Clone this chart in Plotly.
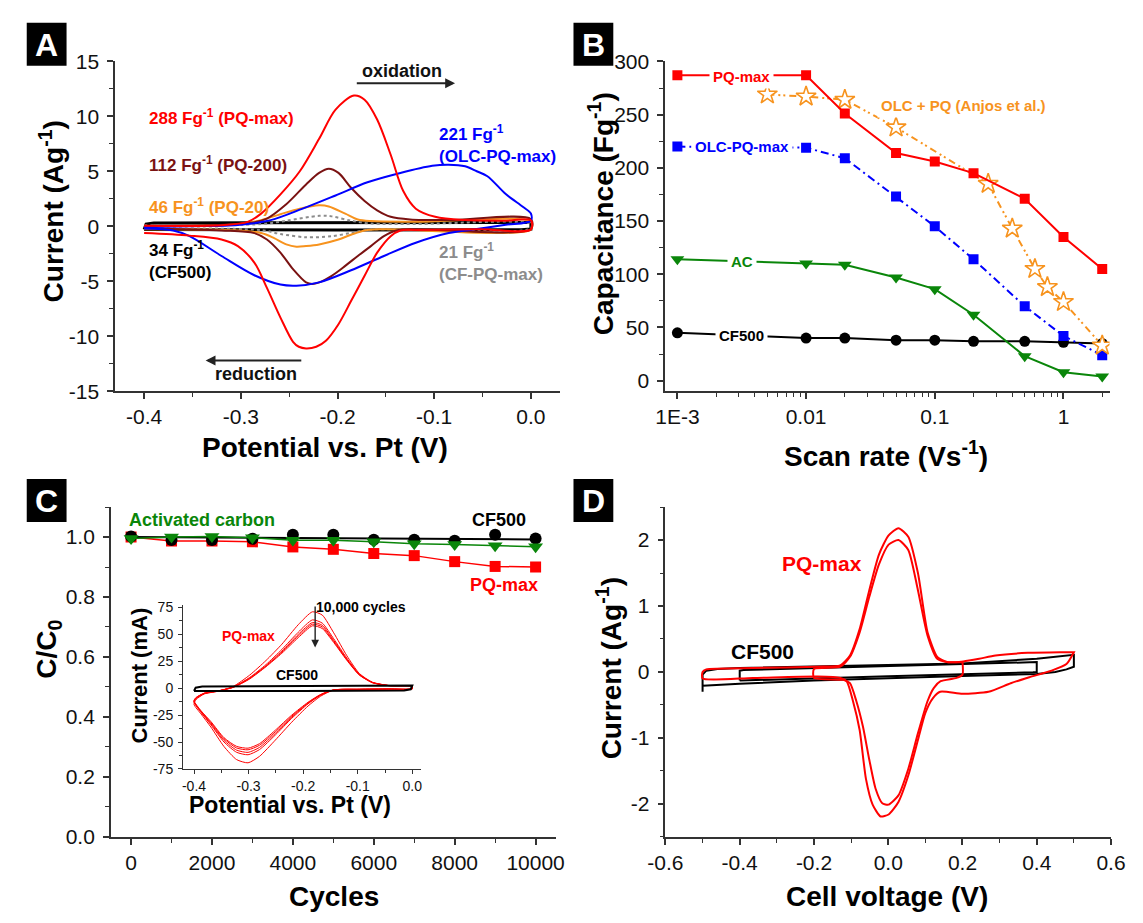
import numpy as np
import plotly.graph_objects as go

W, H = 1143, 923
FONT = "Liberation Sans, Arial, Helvetica, sans-serif"

# ---------------- Panel A : CVs of the electrodes (A g-1 vs V) ----------------
A_pqmax_fx = [-0.40, -0.32, -0.293, -0.279, -0.259, -0.239, -0.219, -0.202, -0.183, -0.172, -0.159, -0.145, -0.132, -0.119, -0.099, -0.068, -0.028, 0.0]
A_pqmax_fy = [0.05, 0.1, 0.4, 1.15, 2.9, 5.0, 7.95, 10.6, 11.88, 11.5, 9.7, 6.5, 3.2, 1.6, 0.86, 0.56, 0.5, 0.55]
A_pqmax_rx = [0.0, -0.052, -0.119, -0.135, -0.145, -0.159, -0.172, -0.186, -0.199, -0.212, -0.222, -0.2325, -0.240, -0.246, -0.259, -0.273, -0.286, -0.303, -0.32, -0.353, -0.40]
A_pqmax_ry = [-0.3, -0.27, -0.33, -0.38, -0.9, -2.4, -4.5, -6.8, -8.9, -10.4, -10.95, -11.1, -10.95, -10.5, -8.3, -5.6, -3.3, -1.8, -1.2, -0.85, -0.62]

A_pq200_fx = [-0.40, -0.293, -0.273, -0.253, -0.2325, -0.219, -0.209, -0.199, -0.186, -0.172, -0.159, -0.145, -0.125, -0.085, 0.0]
A_pq200_fy = [0.05, 0.27, 0.7, 2.0, 3.8, 4.85, 5.23, 4.85, 3.5, 2.3, 1.45, 0.86, 0.62, 0.56, 0.65]
A_pq200_rx = [0.0, -0.119, -0.139, -0.152, -0.1655, -0.179, -0.192, -0.206, -0.219, -0.226, -0.2325, -0.246, -0.259, -0.273, -0.286, -0.32, -0.40]
A_pq200_ry = [-0.25, -0.27, -0.38, -0.9, -1.8, -2.7, -3.6, -4.5, -5.1, -5.25, -5.1, -3.9, -2.4, -1.2, -0.62, -0.38, -0.2]

A_pq20_fx = [-0.40, -0.303, -0.279, -0.259, -0.239, -0.219, -0.209, -0.192, -0.179, -0.1655, -0.119, 0.0]
A_pq20_fy = [0.03, 0.18, 0.56, 1.1, 1.6, 1.9, 1.8, 1.15, 0.62, 0.47, 0.41, 0.4]
A_pq20_rx = [0.0, -0.152, -0.172, -0.186, -0.199, -0.219, -0.2325, -0.2425, -0.253, -0.266, -0.279, -0.303, -0.40]
A_pq20_ry = [-0.3, -0.27, -0.38, -0.77, -1.2, -1.65, -1.8, -1.86, -1.65, -1.06, -0.62, -0.38, -0.27]

A_cfpq_fx = [-0.40, -0.279, -0.253, -0.219, -0.206, -0.186, -0.166, -0.12, 0.0]
A_cfpq_fy = [0.1, 0.2, 0.5, 0.95, 0.9, 0.5, 0.25, 0.2, 0.2]
A_cfpq_rx = [0.0, -0.166, -0.186, -0.206, -0.2325, -0.259, -0.279, -0.40]
A_cfpq_ry = [-0.2, -0.3, -0.6, -0.9, -1.0, -0.7, -0.35, -0.2]

A_cf500_x = [-0.40, -0.398, -0.39, -0.2, 0.0, 0.0, -0.01, -0.2, -0.39, -0.40]
A_cf500_y = [-0.3, 0.2, 0.3, 0.32, 0.35, -0.25, -0.32, -0.33, -0.35, -0.3]

A_olc_fx = [-0.40, -0.353, -0.303, -0.269, -0.236, -0.202, -0.169, -0.135, -0.102, -0.085, -0.068, -0.056, -0.045, -0.026, -0.008, 0.0]
A_olc_fy = [-0.1, 0.0, 0.12, 0.56, 1.6, 2.8, 4.0, 4.85, 5.5, 5.6, 5.45, 5.0, 4.55, 2.93, 1.75, 1.16]
A_olc_rx = [0.0, -0.026, -0.056, -0.085, -0.119, -0.152, -0.186, -0.219, -0.2425, -0.259, -0.286, -0.32, -0.353, -0.37, -0.40]
A_olc_ry = [0.5, 0.13, -0.25, -0.62, -1.5, -2.7, -4.0, -5.1, -5.4, -5.3, -4.45, -2.7, -0.9, -0.38, -0.2]

# ---------------- Panel B : capacitance vs scan rate ----------------
B_rate = [0.001, 0.01, 0.02, 0.05, 0.1, 0.2, 0.5, 1, 2]
B_pqmax = [287, 287, 251, 214, 206, 195, 171, 135, 105]
B_olcpq = [220, 219, 209, 173, 145, 114, 70, 42, 24]
B_ac = [114, 110, 109, 97, 86, 62, 23, 8, 4]
B_cf500 = [45, 40, 40, 38, 38, 37, 37, 36, 35]
B_anjos_rate = [0.005, 0.01, 0.02, 0.05, 0.26, 0.4, 0.6, 0.75, 1, 2]
B_anjos = [269, 267, 264, 238, 185, 143, 105, 88, 74, 33]

# ---------------- Panel C : cycling stability ----------------
C_cycles = [0, 1000, 2000, 3000, 4000, 5000, 6000, 7000, 8000, 9000, 10000]
C_pqmax = [1.0, 0.987, 0.987, 0.984, 0.967, 0.959, 0.945, 0.938, 0.918, 0.902, 0.900]
C_ac = [0.995, 1.0, 1.002, 0.998, 0.989, 0.989, 0.984, 0.978, 0.975, 0.971, 0.968]
C_cf500 = [1.002, 0.99, 0.99, 0.994, 1.008, 1.008, 0.991, 0.991, 0.988, 1.008, 0.995]
C_cf500_fit_x = [0, 10000]
C_cf500_fit_y = [1.0, 0.992]

# inset: CVs (mA) during cycling
I_fx = [-0.4, -0.396, -0.381, -0.357, -0.328, -0.298, -0.268, -0.239, -0.209, -0.183, -0.165, -0.144, -0.120, -0.097, -0.073, -0.043, -0.002, 0.0]
I_rx = [0.0, -0.043, -0.097, -0.144, -0.168, -0.191, -0.221, -0.251, -0.280, -0.301, -0.322, -0.345, -0.369, -0.387, -0.4]
I_c1_f = [-15, -10.4, -5.3, -2.9, 1.7, 12.2, 25.8, 40.9, 59, 71, 68, 51.5, 30.3, 13.7, 5.6, 2.6, 2.3, 1.7]
I_c1_r = [-0.5, -0.75, -1.05, -1.66, -7.4, -16.5, -31.6, -48.2, -63.3, -69.3, -66.3, -54.2, -36.1, -24, -15]
I_c2_f = [-13, -9.5, -5, -2.8, 1.2, 10, 22, 36, 52, 63.5, 60.5, 46, 28, 13, 5.4, 2.5, 2.2, 1.6]
I_c2_r = [-0.5, -0.7, -1.0, -1.6, -6.5, -14.5, -28, -43.5, -57, -61.8, -59.5, -50, -34, -22.5, -13]
I_c3_f = [-12.5, -9, -4.8, -2.7, 1.0, 9.5, 21, 34.5, 50, 61, 58.5, 44.5, 27, 12.6, 5.3, 2.5, 2.2, 1.6]
I_c3_r = [-0.5, -0.7, -1.0, -1.55, -6.2, -14, -27, -42, -55, -59.6, -57.5, -48.5, -33, -22, -12.5]
I_c4_f = [-12, -8.7, -4.6, -2.6, 0.9, 9, 20.5, 33.5, 48.5, 59.5, 57, 43.5, 26.5, 12.4, 5.2, 2.4, 2.1, 1.5]
I_c4_r = [-0.5, -0.7, -1.0, -1.5, -6, -13.5, -26, -40.5, -53, -57.2, -55.5, -47, -32, -21.5, -12]
I_c5_f = [-11.5, -8.5, -4.5, -2.5, 0.8, 8.6, 20, 32.5, 47, 58, 55.5, 42.5, 26, 12.2, 5.1, 2.4, 2.1, 1.5]
I_c5_r = [-0.5, -0.7, -1.0, -1.5, -5.8, -13, -25, -39, -51.5, -55.7, -54, -46, -31, -21, -11.5]
I_cf_x = [-0.4, -0.397, -0.385, -0.2, -0.01, 0.0, -0.003, -0.015, -0.2, -0.4]
I_cf_y = [-2.5, 0.5, 1.5, 2.0, 2.4, 2.6, -1.0, -2.0, -2.6, -2.5]

# ---------------- Panel D : full cell CVs ----------------
D_pq1_fx = [-0.5, -0.5, -0.49, -0.365, -0.19, -0.129, -0.103, -0.077, -0.051, -0.025, 0.001, 0.0275, 0.054, 0.080, 0.106, 0.132, 0.158, 0.202, 0.245, 0.289, 0.376, 0.463, 0.5]
D_pq1_fy = [-0.1, 0.0, 0.04, 0.06, 0.08, 0.1, 0.25, 0.65, 1.24, 1.78, 2.07, 2.18, 2.05, 1.5, 0.6, 0.23, 0.15, 0.16, 0.2, 0.25, 0.29, 0.3, 0.3]
D_pq1_rx = [0.5, 0.48, 0.44, 0.38, 0.33, 0.27, 0.2, 0.14, 0.12, 0.10, 0.08, 0.054, 0.0275, 0.001, -0.0205, -0.042, -0.060, -0.077, -0.095, -0.112, -0.129, -0.19, -0.365, -0.5]
D_pq1_ry = [0.3, 0.12, 0.02, -0.08, -0.17, -0.3, -0.33, -0.3, -0.4, -0.62, -1.03, -1.57, -1.97, -2.16, -2.19, -2.01, -1.62, -0.88, -0.44, -0.14, -0.09, -0.07, -0.09, -0.1]
D_pq2_fx = [-0.2, -0.2, -0.129, -0.103, -0.077, -0.051, -0.025, 0.001, 0.0275, 0.054, 0.080, 0.106, 0.132, 0.158, 0.2]
D_pq2_fy = [-0.09, 0.045, 0.08, 0.23, 0.6, 1.14, 1.63, 1.93, 2.0, 1.85, 1.24, 0.55, 0.2, 0.15, 0.15]
D_pq2_rx = [0.2, 0.2, 0.184, 0.141, 0.123, 0.106, 0.080, 0.054, 0.0275, 0.001, -0.016, -0.034, -0.051, -0.068, -0.086, -0.103, -0.121, -0.2]
D_pq2_ry = [0.15, -0.04, -0.09, -0.14, -0.24, -0.44, -0.93, -1.47, -1.87, -2.01, -1.99, -1.77, -1.33, -0.83, -0.44, -0.17, -0.12, -0.09]
D_cf1_x = [-0.5, -0.5, -0.49, -0.46, -0.4, -0.2, 0.0, 0.2, 0.4, 0.5, 0.5, 0.48, 0.45, 0.4, 0.2, 0.0, -0.2, -0.4, -0.5]
D_cf1_y = [-0.3, -0.04, 0.02, 0.045, 0.06, 0.08, 0.1, 0.13, 0.2, 0.26, 0.08, 0.04, 0.0, -0.03, -0.06, -0.09, -0.13, -0.18, -0.21]
D_cf2_x = [-0.4, -0.4, -0.39, 0.0, 0.39, 0.4, 0.4, 0.39, 0.0, -0.39, -0.4]
D_cf2_y = [-0.13, 0.02, 0.03, 0.09, 0.145, 0.15, 0.0, -0.005, -0.065, -0.125, -0.13]

RED = "#ff0000"
MAROON = "#7a1212"
ORANGE = "#f7931e"
BLUE = "#0000ff"
GREY = "#8c8c8c"
GREEN = "#0a860a"
BLACK = "#000000"

fig = go.Figure()


def line(x, y, color, xa, ya, width=2.0, dash="solid", shape="spline", smoothing=0.6):
    fig.add_trace(go.Scatter(x=x, y=y, mode="lines", xaxis=xa, yaxis=ya,
                             line=dict(color=color, width=width, dash=dash, shape=shape,
                                       smoothing=smoothing if shape == "spline" else None),
                             hoverinfo="skip"))


# Panel A traces
line(A_cf500_x, A_cf500_y, BLACK, "x", "y", width=3, shape="linear")
line(A_cfpq_fx + A_cfpq_rx, A_cfpq_fy + A_cfpq_ry, GREY, "x", "y", width=2, dash="dot", smoothing=0.9)
line(A_pq20_fx + A_pq20_rx, A_pq20_fy + A_pq20_ry, ORANGE, "x", "y", smoothing=0.9)
line(A_pq200_fx + A_pq200_rx, A_pq200_fy + A_pq200_ry, MAROON, "x", "y", smoothing=0.9)
line(A_olc_fx + A_olc_rx, A_olc_fy + A_olc_ry, BLUE, "x", "y", smoothing=0.9)
line(A_pqmax_fx + A_pqmax_rx, A_pqmax_fy + A_pqmax_ry, RED, "x", "y", smoothing=0.9)


# Panel B traces
def mline(x, y, color, xa, ya, symbol, size, dash="solid", width=2, hollow=False):
    fig.add_trace(go.Scatter(x=x, y=y, mode="lines+markers", xaxis=xa, yaxis=ya,
                             line=dict(color=color, width=width, dash=dash),
                             marker=dict(symbol=symbol, size=size, color="white" if hollow else color,
                                         line=dict(color=color, width=1.6 if hollow else 0)),
                             hoverinfo="skip"))


mline(B_rate, B_cf500, BLACK, "x2", "y2", "circle", 11)
mline(B_rate, B_ac, GREEN, "x2", "y2", "triangle-down", 12)
mline(B_rate, B_olcpq, BLUE, "x2", "y2", "square", 10, dash="8px,4px,2px,4px")
mline(B_anjos_rate, B_anjos, ORANGE, "x2", "y2", "star", 15, dash="7px,4px,2px,3px,2px,4px", hollow=True)
mline(B_rate, B_pqmax, RED, "x2", "y2", "square", 10)

# Panel C traces
fig.add_trace(go.Scatter(x=C_cycles, y=C_pqmax, mode="lines+markers", xaxis="x3", yaxis="y3",
                         line=dict(color=RED, width=1.5), marker=dict(symbol="square", size=11, color=RED),
                         hoverinfo="skip"))
fig.add_trace(go.Scatter(x=C_cycles, y=C_cf500, mode="markers", xaxis="x3", yaxis="y3",
                         marker=dict(symbol="circle", size=12, color=BLACK), hoverinfo="skip"))
fig.add_trace(go.Scatter(x=C_cf500_fit_x, y=C_cf500_fit_y, mode="lines", xaxis="x3", yaxis="y3",
                         line=dict(color=BLACK, width=2), hoverinfo="skip"))
fig.add_trace(go.Scatter(x=C_cycles, y=C_ac, mode="lines+markers", xaxis="x3", yaxis="y3",
                         line=dict(color=GREEN, width=1.5), marker=dict(symbol="triangle-down", size=13, color=GREEN),
                         hoverinfo="skip"))

# inset traces
for f_, r_ in [(I_c1_f, I_c1_r), (I_c2_f, I_c2_r), (I_c3_f, I_c3_r), (I_c4_f, I_c4_r), (I_c5_f, I_c5_r)]:
    line(I_fx + I_rx, f_ + r_, RED, "x5", "y5", width=1)
line(I_cf_x, I_cf_y, BLACK, "x5", "y5", width=2, shape="linear")

# Panel D traces
line(D_cf1_x, D_cf1_y, BLACK, "x4", "y4", width=2, shape="linear")
line(D_cf2_x, D_cf2_y, BLACK, "x4", "y4", width=2, shape="linear")
line(D_pq2_fx + D_pq2_rx, D_pq2_fy + D_pq2_ry, RED, "x4", "y4", width=2)
line(D_pq1_fx + D_pq1_rx, D_pq1_fy + D_pq1_ry, RED, "x4", "y4", width=2)


def ax(rng, domain, anchor, vals, texts, minor_vals, size=21, ticklen=6, lw=1.5, standoff=None, **kw):
    d = dict(range=rng, domain=domain, anchor=anchor, tickmode="array", tickvals=vals, ticktext=texts,
             ticks="outside", ticklen=ticklen, tickwidth=lw, tickcolor="#333",
             showline=True, linecolor="#333", linewidth=lw, showgrid=False, zeroline=False,
             tickfont=dict(family=FONT, size=size, color="#111"),
             minor=dict(tickmode="array", tickvals=minor_vals, ticks="outside", ticklen=max(3, ticklen - 2),
                        tickwidth=lw * 0.8, tickcolor="#333", showgrid=False))
    if standoff is not None:
        d["ticklabelstandoff"] = standoff
    d.update(kw)
    return d


def fx(p):
    return p / W


def fy(p):
    return 1 - p / H


def lst(a):
    return [round(float(v), 6) for v in a]


def fmt1(v):
    return f"{v:.1f}"


A_xt = [-0.4, -0.3, -0.2, -0.1, 0.0]
A_yt = [-15, -10, -5, 0, 5, 10, 15]
B_xt = [0.001, 0.01, 0.1, 1]
B_xtt = ["1E-3", "0.01", "0.1", "1"]
B_yt = [0, 50, 100, 150, 200, 250, 300]
C_xt = [0, 2000, 4000, 6000, 8000, 10000]
C_yt = [0.0, 0.2, 0.4, 0.6, 0.8, 1.0]
D_xt = [-0.6, -0.4, -0.2, 0.0, 0.2, 0.4, 0.6]
D_yt = [-2, -1, 0, 1, 2]
I_xt = [-0.4, -0.3, -0.2, -0.1, 0.0]
I_yt = [-75, -50, -25, 0, 25, 50, 75]

B_minor = [m * 10.0 ** e for e in range(-3, 1) for m in range(2, 10)]

fig.update_layout(
    width=W, height=H, margin=dict(l=0, r=0, t=0, b=0),
    paper_bgcolor="white", plot_bgcolor="rgba(0,0,0,0)", showlegend=False,
    font=dict(family=FONT, size=14, color="#111"),
    xaxis=ax([-0.43, 0.03], [fx(100), fx(558)], "y", A_xt, [fmt1(v) for v in A_xt],
             lst(np.arange(-0.45, 0.051, 0.05))),
    yaxis=ax([-15, 15], [fy(389), fy(50.5)], "x", A_yt, [str(v) for v in A_yt],
             lst(np.arange(-15, 15.1, 2.5)), standoff=4),
    xaxis2=dict(ax([-3.095, 0.358], [fx(666.4), fx(1124)], "y2", B_xt, B_xtt, B_minor), type="log"),
    yaxis2=ax([-10, 300], [fy(389), fy(50.7)], "x2", B_yt, [str(v) for v in B_yt],
              lst(np.arange(0, 301, 25)), standoff=4),
    xaxis3=ax([-500, 10500], [fx(95.6), fx(553.8)], "y3", C_xt, [str(v) for v in C_xt],
              lst(np.arange(0, 10001, 1000))),
    yaxis3=ax([0, 1.1], [fy(846), fy(507.7)], "x3", C_yt, [fmt1(v) for v in C_yt],
              lst(np.arange(0, 1.101, 0.1)), standoff=4),
    xaxis4=ax([-0.6, 0.6], [fx(666.7), fx(1125.5)], "y4", D_xt, [fmt1(v) for v in D_xt],
              lst(np.arange(-0.6, 0.61, 0.1))),
    yaxis4=ax([-2.5, 2.5], [fy(846), fy(507.7)], "x4", D_yt, [str(v) for v in D_yt],
              lst(np.arange(-2.5, 2.51, 0.5)), standoff=4),
    xaxis5=ax([-0.42, 0.016], [fx(170), fx(415)], "y5", I_xt, [fmt1(v) for v in I_xt],
              lst(np.arange(-0.4, 0.01, 0.05)), size=14, ticklen=4, lw=1.2),
    yaxis5=ax([-75, 77.2], [fy(776.3), fy(608.3)], "x5", I_yt, [str(v) for v in I_yt],
              lst(np.arange(-75, 76, 12.5)), size=14, ticklen=4, lw=1.2, standoff=2),
)

ann = []


def T(text, x, y, size, color=BLACK, xref="paper", yref="paper", xanchor="center", yanchor="middle",
      angle=0, bold=True, align="center", bg=None, pad=1):
    d = dict(text=f"<b>{text}</b>" if bold else text, x=x, y=y, xref=xref, yref=yref, showarrow=False,
             xanchor=xanchor, yanchor=yanchor, textangle=angle, align=align,
             font=dict(family=FONT, size=size, color=color), borderpad=pad)
    if bg:
        d["bgcolor"] = bg
    ann.append(d)


def arrow(x, y, ax_, ay_, xref, yref, width=1.8):
    ann.append(dict(x=x, y=y, ax=ax_, ay=ay_, xref=xref, yref=yref, axref=xref, ayref=yref,
                    showarrow=True, arrowhead=2, arrowsize=1.1, arrowwidth=width, arrowcolor="#222",
                    text="", font=dict(family=FONT, size=10)))


# axis titles
T("Potential vs. Pt (V)", fx(316.4), fy(446.7), 28)
T("Current (Ag<sup>-1</sup>)", fx(34.5), fy(205), 28, angle=-90)
T("Scan rate (Vs<sup>-1</sup>)", fx(893.6), fy(453), 28)
T("Capacitance (Fg<sup>-1</sup>)", fx(600), fy(206.7), 28, angle=-90)
T("Cycles", fx(325.5), fy(906.7), 28)
T("C/C<sub>0</sub>", fx(32), fy(654), 28, angle=-90)
T("Cell voltage (V)", fx(894.5), fy(906.7), 28)
T("Current (Ag<sup>-1</sup>)", fx(609), fy(672.7), 28, angle=-90)
T("Potential vs. Pt (V)", fx(280), fy(813), 23)
T("Current (mA)", fx(125), fy(680), 22, angle=-90)

# panel A labels
T("288 Fg<sup>-1</sup> (PQ-max)", -0.397, 9.9, 17, RED, "x", "y", xanchor="left")
T("112 Fg<sup>-1</sup> (PQ-200)", -0.397, 5.65, 17, MAROON, "x", "y", xanchor="left")
T("46 Fg<sup>-1</sup> (PQ-20)", -0.397, 1.8, 17, ORANGE, "x", "y", xanchor="left")
T("34 Fg<sup>-1</sup><br>(CF500)", -0.397, -3.1, 17, BLACK, "x", "y", xanchor="left", align="left")
T("221 Fg<sup>-1</sup><br>(OLC-PQ-max)", -0.0975, 7.45, 17, BLUE, "x", "y", xanchor="left", align="left")
T("21 Fg<sup>-1</sup><br>(CF-PQ-max)", -0.0975, -3.25, 17, GREY, "x", "y", xanchor="left", align="left")
T("oxidation", -0.1337, 14.1, 18, "#111", "x", "y")
T("reduction", -0.2844, -13.47, 18, "#111", "x", "y")
arrow(-0.0784, 13.0, -0.1816, 13.0, "x", "y")
arrow(-0.3364, -12.2, -0.2359, -12.2, "x", "y")

# panel B labels
T("PQ-max", -2.5, 286, 15, RED, "x2", "y2", bg="white", pad=3)
T("OLC-PQ-max", -2.5, 220, 15, BLUE, "x2", "y2", bg="white", pad=3)
T("AC", -2.5, 112, 15, GREEN, "x2", "y2", bg="white", pad=3)
T("CF500", -2.5, 42.8, 15, BLACK, "x2", "y2", bg="white", pad=3)
T("OLC + PQ (Anjos et al.)", -0.777, 258.7, 15, ORANGE, "x2", "y2", bg="white", pad=3)

# panel C labels
T("Activated carbon", 1753, 1.057, 18, GREEN, "x3", "y3")
T("CF500", 9103, 1.057, 18, BLACK, "x3", "y3")
T("PQ-max", 9218, 0.841, 18, RED, "x3", "y3")
T("PQ-max", -0.301, 48.5, 14, RED, "x5", "y5")
T("CF500", -0.212, 12.2, 14, BLACK, "x5", "y5")
T("10,000 cycles", -0.094, 75.6, 14, BLACK, "x5", "y5")
arrow(-0.178, 37.9, -0.178, 77.4, "x5", "y5", width=1.4)

# panel D labels
T("PQ-max", -0.178, 1.64, 21, RED, "x4", "y4")
T("CF500", -0.338, 0.315, 21, BLACK, "x4", "y4")

# panel letters
shapes = []
for letter, (x0, x1, y0, y1) in {"A": (9, 50, 11, 55), "B": (572, 613, 11, 55),
                                   "C": (9, 50, 479, 523), "D": (572, 613, 479, 523)}.items():
    shapes.append(dict(type="rect", xref="paper", yref="paper", x0=fx(x0), x1=fx(x1), y0=fy(y1), y1=fy(y0),
                       fillcolor="black", line=dict(width=0), layer="above"))
    T(letter, fx((x0 + x1) / 2), fy((y0 + y1) / 2 + 1), 32, "white")

fig.update_layout(annotations=ann, shapes=shapes)
fig.write_html("out.html")
